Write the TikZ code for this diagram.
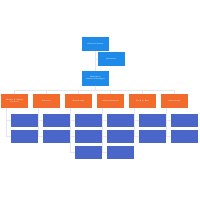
\documentclass[tikz,border=0pt]{standalone}
\usepackage{tikz}

\definecolor{topblue}{HTML}{1E8BE8}
\definecolor{deptorange}{HTML}{F26A2C}
\definecolor{unitblue}{HTML}{4A66C8}
\definecolor{linkgray}{HTML}{E4E7EC}

\tikzset{
	box/.style={inner sep=0pt, minimum width=13.5mm, minimum height=7mm,
		align=center, text=white, font=\fontsize{2.3}{2.8}\selectfont\bfseries},
	headbox/.style={box, fill=topblue},
	deptbox/.style={box, fill=deptorange},
	unitbox/.style={box, fill=unitblue, minimum height=6.5mm},
	link/.style={draw=linkgray, line width=0.25pt}
}

\begin{document}
\begin{tikzpicture}[x=0.5mm, y=-0.5mm]
		\useasboundingbox[fill=white] (0, 0) rectangle (200, 200);
		% top of the chart
		\node[headbox] (gm) at (95.5, 44) {General Owner};
		\node[headbox] (asst) at (111, 59) {Assistant};
		\node[headbox] (exec) at (95.5, 78.5) {Executive\\General Manager};
		\draw[link] (gm) -- (exec);
		\coordinate (asstjoin) at (95.5, 59);
		\draw[link] (asstjoin) -- (asst);
		% departments
		\foreach \i/\name in {1/{Health \& Safety\\Council}, 2/Finance, 3/Hospitality,
			4/Administration, 5/Food \& Bev, 6/Operations} {
			\node[deptbox] (d\i) at (14.5 + 32*\i - 32, 101) {\name};
			\draw[link] (exec.south) -- ++(0, 4) -| (d\i.north);
		}
		% units below each department
		\foreach \i/\n in {1/2, 2/2, 3/3, 4/3, 5/2, 6/2} {
			\foreach \j in {1,...,\n} {
				\node[unitbox] (u\i\j) at (24.5 + 32*\i - 32, 104.5 + 16*\j) {};
				\draw[link] ([xshift=2.75mm]d\i.south west) |- (u\i\j.west);
			}
		}
	\end{tikzpicture}
\end{document}
